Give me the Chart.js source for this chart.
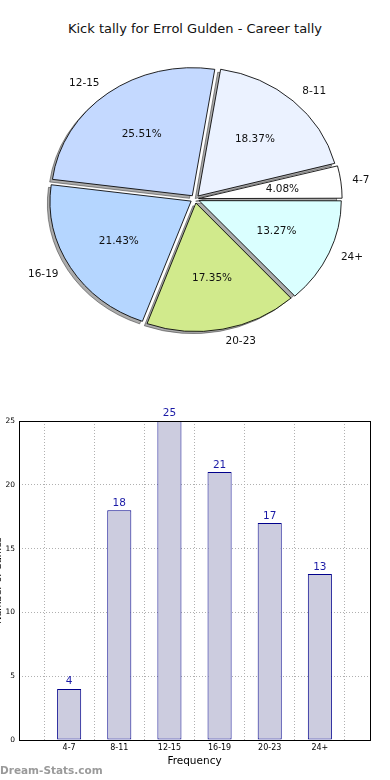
<!DOCTYPE html>
<html><head><meta charset="utf-8">
<script src="https://cdn.jsdelivr.net/npm/chart.js@4"></script>
<style>
html,body{margin:0;padding:0;background:#fff;width:390px;height:780px;overflow:hidden;position:relative;font-family:"DejaVu Sans",sans-serif}
#title{position:absolute;left:0;top:21px;width:390px;text-align:center;font-size:13px;line-height:16px;color:#111}
#pieWrap{position:absolute;left:0;top:0;width:390px;height:398px}
#barWrap{position:absolute;left:0;top:395px;width:390px;height:385px}
#wm{position:absolute;left:0;top:763px;font-size:10.5px;line-height:14px;font-weight:bold;color:#9a9a9a}
</style></head><body>
<div id="title">Kick tally for Errol Gulden - Career tally</div>
<div id="pieWrap"><canvas id="pie"></canvas></div>
<div id="barWrap"><canvas id="bar"></canvas></div>
<div id="wm">Dream-Stats.com</div>
<script>
const categories = ['4-7','8-11','12-15','16-19','20-23','24+'];
const kickCounts = [4,18,25,21,17,13];
const sliceColors = ['#ffffff','#ebf2ff','#c4d9ff','#b5d6ff','#d1ea8c','#daffff'];
const yTickStep = 5;
const yMax = 25;
const xTitle = 'Frequency';
const yTitle = 'Number of Games';

Chart.defaults.font.family = '"DejaVu Sans", sans-serif';
const total = kickCounts.reduce((a,b)=>a+b,0);
const rev = a => a.slice().reverse();
const SQ = 0.908;
function squash(ctx,cx,cy){ctx.translate(cx,cy);ctx.scale(1,SQ);ctx.translate(-cx,-cy);}

const piePlugin = {
  id:'pieDeco',
  beforeDatasetsDraw(chart){
    const ctx=chart.ctx; const arcs=chart.getDatasetMeta(0).data;
    const cx=arcs[0].x, cy=arcs[0].y;
    ctx.save(); ctx.translate(-2.8,2.6); squash(ctx,cx,cy);
    ctx.fillStyle='rgba(70,70,70,0.45)'; ctx.strokeStyle='rgba(50,50,50,0.55)'; ctx.lineWidth=1;
    arcs.forEach(a=>{
      const off=(a.options.offset||0)/4; const m=(a.startAngle+a.endAngle)/2;
      const x=a.x+Math.cos(m)*off, y=a.y+Math.sin(m)*off;
      ctx.beginPath(); ctx.moveTo(x,y); ctx.arc(x,y,a.outerRadius,a.startAngle,a.endAngle); ctx.closePath(); ctx.fill(); ctx.stroke();
    });
    ctx.restore();
    ctx.save(); squash(ctx,cx,cy);
  },
  afterDatasetsDraw(chart){
    const ctx=chart.ctx; ctx.restore();
    const arcs=chart.getDatasetMeta(0).data; const labels=chart.data.labels; const vals=chart.data.datasets[0].data;
    ctx.save(); ctx.font='10.5px "DejaVu Sans"'; ctx.fillStyle='#111'; ctx.textBaseline='middle';
    arcs.forEach((a,i)=>{
      const off=(a.options.offset||0)/4; const m=(a.startAngle+a.endAngle)/2;
      const c=Math.cos(m), s=Math.sin(m); const R=a.outerRadius;
      const r1=1.1*R+off; ctx.textAlign=c>=0?'left':'right';
      ctx.fillText(labels[i], a.x+c*r1, a.y+s*r1*SQ);
      const r2=0.6*R+off; ctx.textAlign='center';
      ctx.fillText((vals[i]/total*100).toFixed(2)+'%', a.x+c*r2, a.y+s*r2*SQ);
    });
    ctx.restore();
  }
};

new Chart(document.getElementById('pie'),{
  type:'pie',
  data:{labels:rev(categories),datasets:[{data:rev(kickCounts),backgroundColor:rev(sliceColors),borderColor:'#000',borderWidth:0.9,offset:[18,18,18,18,18,14],radius:141,rotation:90}]},
  options:{responsive:true,maintainAspectRatio:false,animation:false,events:[],rotation:90,radius:141,
    layout:{padding:0},plugins:{legend:{display:false},tooltip:{enabled:false},title:{display:false}}},
  plugins:[piePlugin]
});

const padLabels=['',...categories,''];
const padValues=[null,...kickCounts,null];

const barPlugin={
  id:'barDeco',
  afterDatasetsDraw(chart){
    const ctx=chart.ctx; const bars=chart.getDatasetMeta(0).data; const vals=chart.data.datasets[0].data;
    ctx.save(); ctx.font='10.5px "DejaVu Sans"'; ctx.fillStyle='#1a1aa6'; ctx.textAlign='center'; ctx.textBaseline='bottom';
    bars.forEach((b,i)=>{ if(vals[i]==null) return; ctx.fillText(String(vals[i]), b.x, b.y-2); });
    ctx.restore();
  },
  afterDraw(chart){
    const ctx=chart.ctx; const a=chart.chartArea;
    ctx.save(); ctx.strokeStyle='#000'; ctx.lineWidth=1;
    ctx.strokeRect(Math.round(a.left)+0.5,Math.round(a.top)+0.5,Math.round(a.right-a.left),Math.round(a.bottom-a.top));
    ctx.font='9.5px "DejaVu Sans"'; ctx.fillStyle='#000'; ctx.textAlign='center'; ctx.textBaseline='middle';
    ctx.translate(-1.5,(a.top+a.bottom)/2); ctx.rotate(-Math.PI/2);
    ctx.fillText(yTitle,0,0);
    ctx.restore();
  }
};

new Chart(document.getElementById('bar'),{
  type:'bar',
  data:{labels:padLabels,datasets:[{data:padValues,backgroundColor:'#ccccdf',borderColor:'#00008b',borderWidth:1,borderSkipped:false,barPercentage:0.48,categoryPercentage:1}]},
  options:{responsive:true,maintainAspectRatio:false,animation:false,events:[],
    layout:{padding:{left:0,right:20,top:26,bottom:10}},
    plugins:{legend:{display:false},tooltip:{enabled:false}},
    scales:{
      x:{offset:false,z:1,
        grid:{color:'#b0b0b0',lineWidth:1,drawTicks:false},
        border:{display:false,dash:[1,2]},
        ticks:{font:{size:8},color:'#000',padding:3,maxRotation:0,autoSkip:false},
        title:{display:true,text:xTitle,font:{size:10.5},color:'#000',padding:{top:0,bottom:2}},
        afterFit:s=>{s.height=30;}
      },
      y:{min:0,max:yMax,z:1,
        grid:{color:'#b0b0b0',lineWidth:1,drawTicks:false},
        border:{display:false,dash:[1,2]},
        ticks:{stepSize:yTickStep,font:{size:7.5},color:'#000',padding:4},
        afterFit:s=>{s.width=19;}
      }
    }},
  plugins:[barPlugin]
});
</script>
</body></html>
